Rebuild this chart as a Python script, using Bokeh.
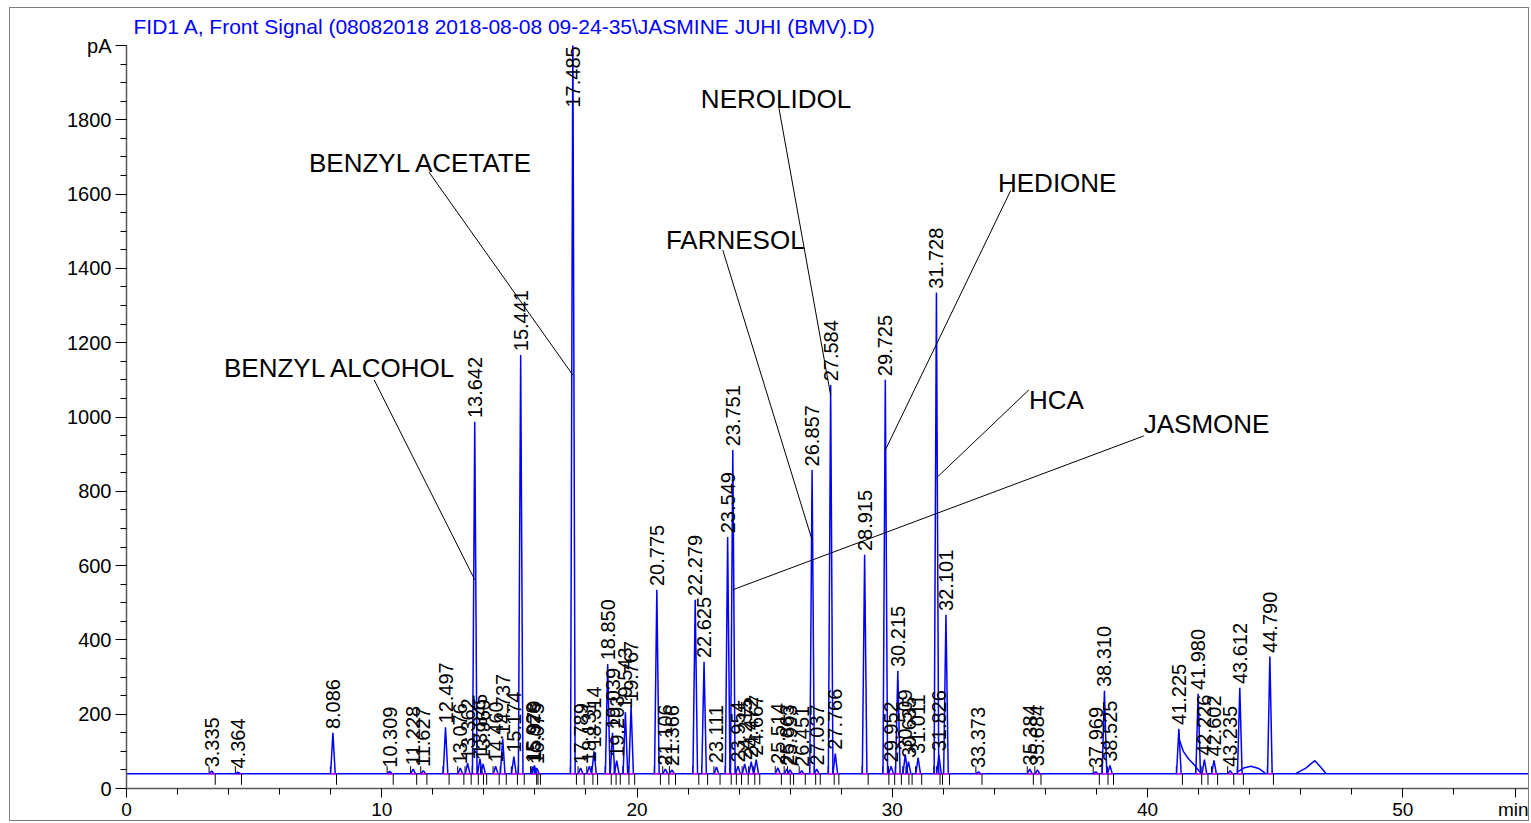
import numpy as np
from bokeh.plotting import figure
from bokeh.models import Range1d, FixedTicker, ColumnDataSource
from bokeh.embed import file_html
from bokeh.resources import INLINE
from bokeh.core.properties import value

# ---------------- data ----------------
title_text = "FID1 A, Front Signal (08082018 2018-08-08 09-24-35\\JASMINE JUHI (BMV).D)"

peak_rt = [3.335, 4.364, 8.086, 10.309, 11.228, 11.627, 12.497, 13.076, 13.362, 13.642,
           13.845, 13.969, 14.460, 14.737, 15.174, 15.441, 15.928, 15.979, 16.075, 17.485,
           17.789, 18.131, 18.314, 18.850, 19.039, 19.203, 19.543, 19.767, 20.775, 21.106,
           21.366, 22.279, 22.625, 23.111, 23.549, 23.751, 23.954, 24.215, 24.472, 24.667,
           25.514, 25.863, 25.993, 26.451, 26.857, 27.037, 27.584, 27.766, 28.915, 29.725,
           29.952, 30.215, 30.509, 30.635, 31.011, 31.728, 31.826, 32.101, 33.373, 35.384,
           35.684, 37.969, 38.310, 38.525, 41.225, 41.980, 42.226, 42.602, 43.235, 43.612,
           44.790]
peak_height = [47, 44, 150, 46, 52, 48, 165, 55, 68, 987,
               80, 66, 60, 134, 86, 1167, 58, 62, 55, 2050,
               55, 60, 100, 335, 150, 75, 205, 223, 535, 52,
               50, 508, 341, 58, 677, 911, 60, 66, 72, 78,
               56, 52, 50, 48, 857, 52, 1086, 94, 629, 1100,
               60, 317, 92, 72, 83, 1335, 90, 468, 45, 52,
               50, 45, 263, 62, 161, 255, 78, 76, 48, 271,
               355]
peak_label = ["%.3f" % t for t in peak_rt]

baseline_level = 40
run_end = 55.0

# broad humps / tails of the trace (min, pA)
hump_x = [[41.25, 41.40, 41.60, 41.85, 42.05],
          [43.50, 43.80, 44.05, 44.35, 44.60],
          [45.80, 46.20, 46.55, 46.75, 47.00]]
hump_y = [[130, 100, 80, 62, 44],
          [44, 56, 60, 54, 42],
          [40, 55, 75, 60, 40]]

compound_names = ["BENZYL ALCOHOL", "BENZYL ACETATE", "NEROLIDOL", "FARNESOL",
                  "HEDIONE", "HCA", "JASMONE"]
compound_rt = [13.642, 17.485, 27.584, 26.857, 29.725, 31.728, 23.751]
compound_hit_y = [562, 1113, 1059, 669, 911, 836, 535]

# annotation layout (text anchor and leader start, in min / pA)
name_x = [3.82, 7.15, 22.50, 21.13, 34.14, 35.35, 39.85]
name_y = [1132, 1683, 1857, 1476, 1629, 1046, 981]
lead_x = [9.70, 11.85, 25.56, 23.36, 34.64, 35.35, 39.85]
lead_y = [1100, 1659, 1831, 1449, 1610, 1073, 949]

y_ticks = list(range(0, 2001, 200))
y_minor = list(range(0, 2001, 50))
x_ticks = [0, 10, 20, 30, 40, 50, 54.4]
x_minor = list(range(0, 53, 2))
x_overrides = {54.4: "min"}
y_overrides = {2000: "pA"}

# ---------------- figure ----------------
FONT = "Liberation Sans"
p = figure(width=1520, height=814, x_range=Range1d(0, run_end), y_range=Range1d(0, 2000),
           output_backend="svg", toolbar_location=None,
           min_border_left=116, min_border_right=0, min_border_top=37, min_border_bottom=33,
           styles={"border": "1px solid #7f7f7f", "margin-left": "9px", "margin-top": "7px"})
p.outline_line_color = None
p.xgrid.visible = False
p.ygrid.visible = False

p.title.text = title_text
p.title.text_color = "#0000ff"
p.title.text_font = FONT
p.title.text_font_size = "21px"
p.title.text_font_style = "normal"
p.title.align = "left"
p.title.vertical_align = "top"
p.title.offset = 7
p.title.standoff = 12

for ax in (p.xaxis[0], p.yaxis[0]):
    ax.axis_line_color = "#5a5a5a"
    ax.axis_line_width = 1.5
    ax.major_tick_line_color = "black"
    ax.minor_tick_line_color = "black"
    ax.major_tick_in = 0
    ax.minor_tick_in = 0
    ax.major_tick_out = 11
    ax.minor_tick_out = 6
    ax.major_label_text_font = FONT
    ax.major_label_text_font_size = "20px"
    ax.major_label_text_color = "black"

p.yaxis[0].ticker = FixedTicker(ticks=y_ticks, minor_ticks=y_minor)
p.yaxis[0].major_label_overrides = y_overrides
p.yaxis[0].major_label_standoff = 4
p.xaxis[0].ticker = FixedTicker(ticks=x_ticks, minor_ticks=x_minor)
p.xaxis[0].major_label_overrides = x_overrides
p.xaxis[0].major_tick_out = 9
p.xaxis[0].major_label_standoff = 1
p.xaxis[0].major_label_text_font_size = "19px"

rt = np.array(peak_rt)
h = np.array(peak_height, dtype=float)
b = baseline_level
n = len(rt)

# baseline of the trace
p.line([0, run_end], [b, b], line_color="#0000ff", line_width=1.5)

# integration baselines (magenta) and peak start / end marks
p.segment(x0=rt - 0.12, y0=[b] * n, x1=rt + 0.15, y1=[b] * n,
          line_color="#ff00ff", line_width=1.5)
p.segment(x0=rt - 0.10, y0=[b] * n, x1=rt - 0.10, y1=[b + 20] * n,
          line_color="black", line_width=1)
p.segment(x0=rt + 0.14, y0=[b] * n, x1=rt + 0.14, y1=[b - 30] * n,
          line_color="black", line_width=1)

# humps
p.multi_line(xs=hump_x, ys=hump_y, line_color="#0000ff", line_width=1.5)

# peaks
w = 0.09
xs = [[t - w, t, t + w] for t in peak_rt]
ys = [[b, hh, b] for hh in peak_height]
p.multi_line(xs=xs, ys=ys, line_color="#0000ff", line_width=1.5)

# retention time labels
lab_y = np.minimum(h + 10, 1833)
src = ColumnDataSource(dict(x=rt, y=lab_y, t=peak_label))
p.text(x="x", y="y", text="t", source=src, angle=np.pi / 2,
       text_align="left", text_baseline="middle", text_color="black",
       text_font=value(FONT), text_font_size="20px")

# compound names with leader lines
p.segment(x0=lead_x, y0=lead_y, x1=compound_rt, y1=compound_hit_y,
          line_color="black", line_width=1)
nsrc = ColumnDataSource(dict(x=name_x, y=name_y, t=compound_names))
p.text(x="x", y="y", text="t", source=nsrc, text_align="left", text_baseline="middle",
       text_color="black", text_font=value(FONT), text_font_size="26px")

open("out.html", "w").write(file_html(p, INLINE))
